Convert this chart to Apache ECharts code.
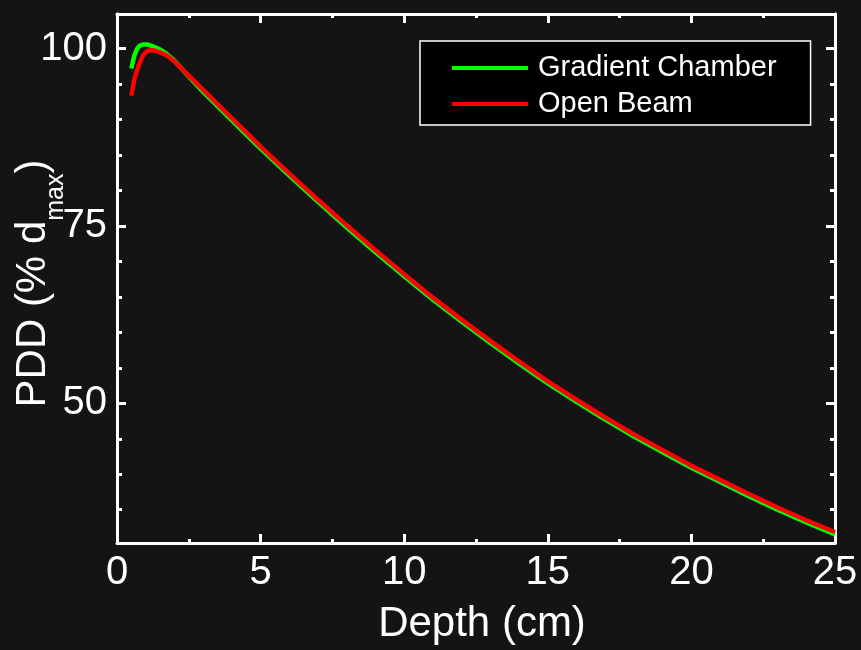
<!DOCTYPE html>
<html>
<head>
<meta charset="utf-8">
<script src="https://cdn.jsdelivr.net/npm/echarts@6/dist/echarts.min.js"></script>
<style>
html,body{margin:0;padding:0;background:#141414;}
#c{width:861px;height:650px;}
</style>
</head>
<body>
<div id="c"></div>
<script>
// ---- data ----
const depth = [0.5, 0.6, 0.7, 0.8, 0.9, 1.0, 1.1, 1.25, 1.5, 1.75, 2.0, 2.5, 3, 3.5, 4, 4.5, 5, 6, 7, 8, 9, 10, 11, 12, 13, 14, 15, 16, 17, 18, 19, 20, 21, 22, 23, 24, 25];
const gradientChamber = [97.2, 99.0, 100.0, 100.45, 100.6, 100.6, 100.55, 100.35, 99.9, 99.2, 98.3, 96.1, 93.9, 91.9, 89.9, 87.9, 85.9, 82.1, 78.4, 74.8, 71.3, 67.9, 64.6, 61.5, 58.5, 55.6, 52.8, 50.2, 47.7, 45.3, 43.1, 40.9, 38.9, 36.9, 35.0, 33.2, 31.5];
const openBeam = [93.4, 95.6, 97.0, 98.1, 99.0, 99.5, 99.75, 99.8, 99.5, 99.0, 98.2, 96.2, 94.2, 92.2, 90.2, 88.2, 86.2, 82.4, 78.7, 75.1, 71.6, 68.2, 64.9, 61.8, 58.8, 55.9, 53.1, 50.5, 48.0, 45.6, 43.4, 41.2, 39.2, 37.2, 35.3, 33.5, 31.85];
const yMajorTicks = [50, 75, 100];
const yMinorTicks = [35, 40, 45, 55, 60, 65, 70, 80, 85, 90, 95];
const seriesNames = ['Gradient Chamber', 'Open Beam'];

const FONT = 'Liberation Sans, Arial, Helvetica, sans-serif';
const WHITE = '#ffffff';
const Y_MIN = 30.3, Y_MAX = 104.9;

function pairs(xs, ys) { return xs.map((x, i) => [x, ys[i]]); }

const lineAxis = { show: true, lineStyle: { color: WHITE, width: 3 } };

function yAxisDef(pos, ticks, len, labels, extra) {
  return Object.assign({
    type: 'value', position: pos, min: Y_MIN, max: Y_MAX, offset: 0,
    axisLine: lineAxis,
    axisTick: { show: true, inside: true, length: len, customValues: ticks, lineStyle: { color: WHITE, width: 3 } },
    axisLabel: labels ? { show: true, customValues: yMajorTicks, color: WHITE, fontSize: 40, fontFamily: FONT, margin: 10 } : { show: false },
    splitLine: { show: false }
  }, extra || {});
}

function xAxisDef(pos, labels, extra) {
  return Object.assign({
    type: 'value', position: pos, min: 0, max: 25, interval: 5,
    axisLine: lineAxis,
    axisTick: { show: true, inside: true, length: 9, lineStyle: { color: WHITE, width: 3 } },
    minorTick: { show: true, splitNumber: 2, length: 4, lineStyle: { color: WHITE, width: 3 } },
    axisLabel: labels ? { show: true, color: WHITE, fontSize: 40, fontFamily: FONT, margin: 10 } : { show: false },
    splitLine: { show: false }, minorSplitLine: { show: false }
  }, extra || {});
}

const chart = echarts.init(document.getElementById('c'), null, { renderer: 'canvas' });
chart.setOption({
  backgroundColor: '#141414',
  animation: false,
  grid: { left: 117, right: 26, top: 14, bottom: 107, containLabel: false, outerBoundsMode: 'none' },
  xAxis: [
    xAxisDef('bottom', true, {
      name: 'Depth (cm)', nameLocation: 'middle', nameGap: 60, nameMoveOverlap: false,
      nameTextStyle: { color: WHITE, fontSize: 42, fontFamily: FONT, padding: [0, 0, 0, 12] }
    }),
    xAxisDef('top', false)
  ],
  yAxis: [
    yAxisDef('left', yMajorTicks, 9, true, {
      name: '{a|PDD (% d}{s|max}{a|)}', nameLocation: 'middle', nameRotate: 90, nameGap: 59, nameMoveOverlap: false,
      nameTextStyle: {
        color: WHITE, fontFamily: FONT, padding: [0, 10, 0, 0],
        rich: {
          a: { color: WHITE, fontSize: 42, fontFamily: FONT, lineHeight: 46, verticalAlign: 'top' },
          s: { color: WHITE, fontSize: 25, fontFamily: FONT, lineHeight: 25, padding: [32, 0, 0, 0], verticalAlign: 'top' }
        }
      }
    }),
    yAxisDef('left', yMinorTicks, 5, false),
    yAxisDef('right', yMajorTicks, 9, false),
    yAxisDef('right', yMinorTicks, 5, false)
  ],
  legend: {
    orient: 'vertical', left: 420, top: 41,
    backgroundColor: '#000000', borderColor: WHITE, borderWidth: 1.5, borderRadius: 0,
    padding: [9, 34, 3, 32],
    icon: 'rect', itemWidth: 76, itemHeight: 4, itemGap: 0,
    textStyle: { color: WHITE, fontSize: 29, fontFamily: FONT, lineHeight: 36, padding: [0, 0, 0, 5] },
    data: seriesNames
  },
  series: [
    { name: seriesNames[0], type: 'line', data: pairs(depth, gradientChamber), showSymbol: false, symbol: 'none',
      lineStyle: { color: '#00ff00', width: 4.5 }, itemStyle: { color: '#00ff00' } },
    { name: seriesNames[1], type: 'line', data: pairs(depth, openBeam), showSymbol: false, symbol: 'none',
      lineStyle: { color: '#ff0000', width: 4.5 }, itemStyle: { color: '#ff0000' } }
  ]
});
</script>
</body>
</html>
